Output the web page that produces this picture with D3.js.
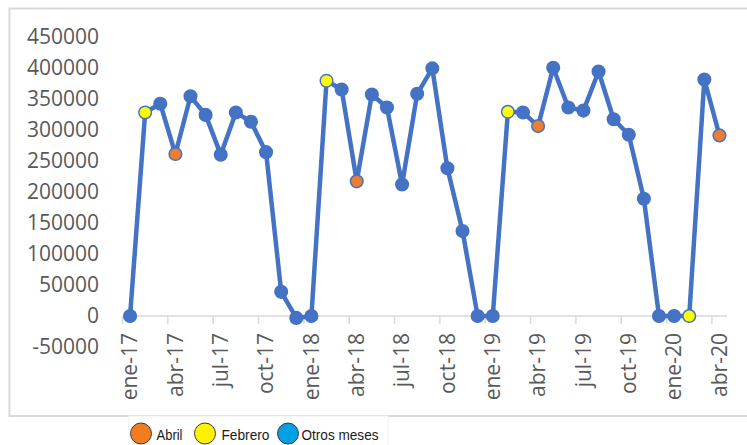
<!DOCTYPE html>
<html>
<head>
<meta charset="utf-8">
<script src="https://cdn.jsdelivr.net/npm/d3@7"></script>
<style>
  html, body { margin: 0; padding: 0; background: #fff; }
  svg { display: block; }
</style>
</head>
<body>
<svg id="chart" width="747" height="445"></svg>
<script>
// ---- data ----
const months = [
  "ene-17","feb-17","mar-17","abr-17","may-17","jun-17","jul-17","ago-17","sep-17","oct-17","nov-17","dic-17",
  "ene-18","feb-18","mar-18","abr-18","may-18","jun-18","jul-18","ago-18","sep-18","oct-18","nov-18","dic-18",
  "ene-19","feb-19","mar-19","abr-19","may-19","jun-19","jul-19","ago-19","sep-19","oct-19","nov-19","dic-19",
  "ene-20","feb-20","mar-20","abr-20"
];
const values = [
  0, 328000, 342000, 261000, 354000, 324000, 260000, 328000, 313000, 264000, 39000, -3000,
  0, 379000, 365000, 217000, 357000, 336000, 212000, 358000, 399000, 238000, 137000, 0,
  0, 329000, 328000, 306000, 400000, 336000, 331000, 394000, 317000, 292000, 189000, 0,
  0, 0, 381000, 291000
];
const yTicks = [-50000, 0, 50000, 100000, 150000, 200000, 250000, 300000, 350000, 400000, 450000];
const xTickLabels = months.filter((m, i) => i % 3 === 0);
const legendNames = ["Abril", "Febrero", "Otros meses"];

// ---- styles ----
const lineColor = "#4472C4";
const markerFill = { Abril: "#ED7D31", Febrero: "#FFFF00", Otros: "#4472C4" };
const legendFill = ["#F47B20", "#FFF200", "#00A0E3"];
const textColor = "#595959";
const fontFam = "'Open Sans', sans-serif";

const svg = d3.select("#chart");

// chart border
svg.append("rect")
  .attr("x", 9.5).attr("y", 8.5)
  .attr("width", 745).attr("height", 407.5)
  .attr("fill", "#fff").attr("stroke", "#D9D9D9").attr("stroke-width", 2);

// scales
const x = d3.scaleBand().domain(months).range([122.5, 727]).padding(0);
const y = d3.scaleLinear().domain([-50000, 450000]).range([347.1, 36.7]);
const cx = m => x(m) + x.bandwidth() / 2;

// y axis (labels only)
const yAxis = svg.append("g")
  .attr("transform", "translate(122,0)")
  .call(d3.axisLeft(y).tickValues(yTicks).tickSize(0).tickPadding(23).tickFormat(d => String(d)));
yAxis.select(".domain").remove();
yAxis.selectAll("text")
  .attr("fill", textColor)
  .style("font-family", fontFam)
  .style("font-size", "21px");

// zero line
svg.append("line")
  .attr("x1", 122.5).attr("x2", 727)
  .attr("y1", y(0)).attr("y2", y(0))
  .attr("stroke", "#D9D9D9").attr("stroke-width", 1.5);

// x tick marks at category boundaries
svg.append("g").selectAll("line")
  .data(xTickLabels)
  .join("line")
  .attr("x1", d => x(d)).attr("x2", d => x(d))
  .attr("y1", y(0)).attr("y2", y(0) + 8)
  .attr("stroke", "#D9D9D9").attr("stroke-width", 1.5);

// x labels
const xAxis = svg.append("g")
  .attr("transform", `translate(0,${y(0)})`)
  .call(d3.axisBottom(x).tickValues(xTickLabels).tickSize(0).tickPadding(0));
xAxis.select(".domain").remove();
xAxis.selectAll("text")
  .attr("fill", textColor)
  .style("font-family", fontFam)
  .style("font-size", "21px")
  .attr("text-anchor", "end")
  .attr("transform", "translate(0,17) rotate(-90)")
  .attr("x", 0).attr("y", 0)
  .attr("dy", "0.35em");

// line
const pts = months.map((m, i) => ({ m, v: values[i] }));
svg.append("path")
  .datum(pts)
  .attr("fill", "none")
  .attr("stroke", lineColor)
  .attr("stroke-width", 4.5)
  .attr("stroke-linejoin", "round")
  .attr("d", d3.line().x(d => cx(d.m)).y(d => y(d.v)));

// markers
const kind = m => m.startsWith("abr") ? "Abril" : (m.startsWith("feb") ? "Febrero" : "Otros");
svg.append("g").selectAll("circle")
  .data(pts)
  .join("circle")
  .attr("cx", d => cx(d.m))
  .attr("cy", d => y(d.v))
  .attr("r", 6.3)
  .attr("fill", d => markerFill[kind(d.m)])
  .attr("stroke", lineColor)
  .attr("stroke-width", 1.5);

// legend
svg.append("rect")
  .attr("x", 129).attr("y", 416)
  .attr("width", 259).attr("height", 40)
  .attr("fill", "#fff").attr("stroke", "#F2F2F2").attr("stroke-width", 1);

const legX = [141, 205, 288];
const legTX = [156.5, 221.5, 301.5];
const legW = [26, 48, 77];
const leg = svg.append("g").selectAll("g")
  .data(legendNames)
  .join("g");
leg.append("circle")
  .attr("cx", (d, i) => legX[i]).attr("cy", 433.5)
  .attr("r", 10.5)
  .attr("fill", (d, i) => legendFill[i])
  .attr("stroke", "#3A3A3A").attr("stroke-width", 1);
leg.append("text")
  .attr("x", (d, i) => legTX[i]).attr("y", 439.5)
  .attr("textLength", (d, i) => legW[i])
  .attr("lengthAdjust", "spacingAndGlyphs")
  .style("font-family", "'Liberation Sans', Arial, sans-serif")
  .style("font-size", "15px")
  .attr("fill", "#1A1A1A")
  .text(d => d);
</script>
</body>
</html>
